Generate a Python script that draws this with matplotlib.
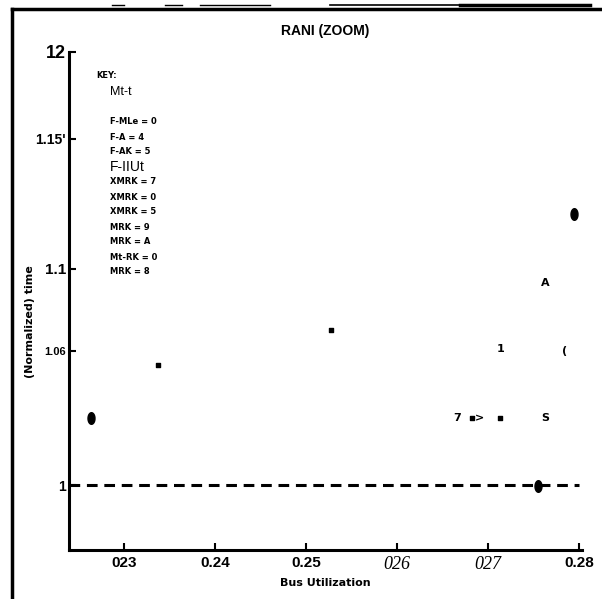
import matplotlib.pyplot as plt
import numpy as np
from matplotlib.lines import Line2D
from matplotlib.path import Path

# scatter points: bus utilization, normalized time, glyph
bus_util = [0.2264, 0.2338, 0.2528, 0.2714, 0.2763, 0.2794, 0.2784,
            0.2666, 0.2682, 0.2691, 0.2713, 0.2763, 0.2755]
norm_time = [1.031, 1.0554, 1.0716, 1.0628, 1.0933, 1.1252, 1.0619,
             1.031, 1.031, 1.031, 1.031, 1.031, 0.9995]
glyphs = ['blob', 'dot', 'dot', '1', 'A', 'blob', '(',
          '7', 'dot', '>', 'dot', 'S', 'blob']

# baseline
base_x = [0.224, 0.28]
base_y = [1.0, 1.0]

# axis ticks (labels as they appear in the scan)
xticks = [0.23, 0.24, 0.25, 0.26, 0.27, 0.28]
xlabels = ['023', '0.24', '0.25', '026', '027', '0.28']
yticks = [1.0, 1.062, 1.1, 1.16, 1.2]
ylabels = ['1', '1.06', '1.1', "1.15'", '12']

# key text block
key_lines = ['KEY:', 'Mt-t', 'F-MLe = 0', 'F-A = 4', 'F-AK = 5', 'F-IIUt',
             'XMRK = 7', 'XMRK = 0', 'XMRK = 5', 'MRK = 9', 'MRK = A',
             'Mt-RK = 0', 'MRK = 8']
key_ypix = [75, 92, 122, 137, 151, 167, 182, 197, 212, 227, 242, 257, 272]

W, H = 602, 599
fig = plt.figure(figsize=(W / 100, H / 100), dpi=100)
ax = fig.add_axes([69 / W, 1 - 550 / H, (582 - 69) / W, (550 - 52) / H])

t = np.linspace(0, 2 * np.pi, 40)
blob = Path(np.c_[0.6 * np.cos(t), np.sin(t)])

for x, y, g in zip(bus_util, norm_time, glyphs):
    if g == 'blob':
        ax.scatter(x, y, marker=blob, s=70, color='black', zorder=3)
    elif g == 'dot':
        ax.scatter(x, y, marker='s', s=5, color='black', zorder=3)
    else:
        ax.text(x, y, g, ha='center', va='center', fontsize=8,
                fontweight='bold', color='black', zorder=3)

ax.plot(base_x, base_y, linestyle=(0, (3.5, 2.2)), color='black', lw=2.2)

ax.set_xlim(0.224, 0.2803)
ax.set_ylim(0.97, 1.2)

ax.set_xticks(xticks)
ax.set_xticklabels(xlabels)
for lab in ax.get_xticklabels():
    if lab.get_text() in ('026', '027'):
        lab.set_fontfamily('Liberation Serif')
        lab.set_fontstyle('italic')
        lab.set_fontsize(13)
    else:
        lab.set_fontfamily('Liberation Sans')
        lab.set_fontweight('bold')
        lab.set_fontsize(11)

ax.set_yticks(yticks)
ax.set_yticklabels(ylabels)
ysizes = [10, 8, 11, 10, 13]
for lab, sz in zip(ax.get_yticklabels(), ysizes):
    lab.set_fontfamily('Liberation Sans')
    lab.set_fontweight('bold')
    lab.set_fontsize(sz)

ax.tick_params(axis='both', direction='in', length=5, width=1.5, pad=4)
ax.tick_params(axis='y', pad=2)
for side in ('top', 'right'):
    ax.spines[side].set_visible(False)
for side in ('left', 'bottom'):
    ax.spines[side].set_linewidth(2.2)

ax.set_title('RANI (ZOOM)', fontsize=10, fontweight='bold',
             family='Liberation Sans', pad=12)
ax.set_xlabel('Bus Utilization', fontsize=8, fontweight='heavy',
              family='DejaVu Sans', labelpad=4)
ax.set_ylabel('(Normalized) time', fontsize=8, fontweight='heavy',
              family='DejaVu Sans')
ax.yaxis.set_label_coords((35 - 69) / 513, (550 - 322) / 498)

for txt, yp in zip(key_lines, key_ypix):
    if txt in ('Mt-t', 'F-IIUt'):
        fig.text(110 / W, 1 - yp / H, txt, fontsize=10 if txt == 'F-IIUt' else 9,
                 family='Liberation Sans', va='center')
    else:
        xp = 96 if txt == 'KEY:' else 110
        fig.text(xp / W, 1 - yp / H, txt, fontsize=6, fontweight='heavy',
                 family='DejaVu Sans', va='center')

# scanned page border and scan noise at the top edge
fig.add_artist(Line2D([12 / W, 12 / W], [0, 1 - 9 / H], color='black', lw=2.5,
                      transform=fig.transFigure))
fig.add_artist(Line2D([12 / W, 1], [1 - 9 / H, 1 - 9 / H], color='black', lw=2.5,
                      transform=fig.transFigure))
for x0, x1, lw in [(112, 124, 1), (165, 182, 1), (200, 270, 1),
                   (330, 460, 1.2), (460, 590, 2.5)]:
    fig.add_artist(Line2D([x0 / W, x1 / W], [1 - 5 / H, 1 - 5 / H],
                          color='black', lw=lw, transform=fig.transFigure))

fig.savefig('out.png', dpi=100)
